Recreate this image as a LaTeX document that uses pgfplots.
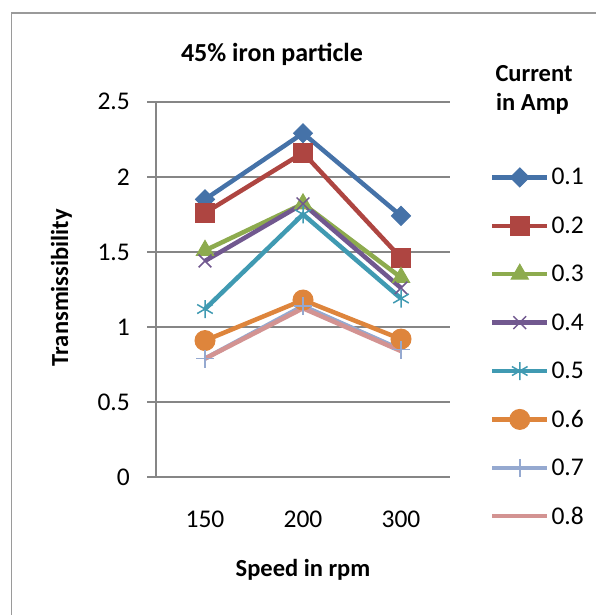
\documentclass[border=0pt]{standalone}
\usepackage{fontspec}
\setmainfont{Carlito}
\usepackage{pgfplots}
\pgfplotsset{compat=1.18}

\definecolor{gridgray}{HTML}{868686}
\definecolor{framegray}{HTML}{9A9A9A}
\definecolor{sA}{HTML}{4572A8}
\definecolor{sB}{HTML}{AE4541}
\definecolor{sC}{HTML}{8DAB4E}
\definecolor{sD}{HTML}{71588F}
\definecolor{sE}{HTML}{409AB2}
\definecolor{sF}{HTML}{DE853C}
\definecolor{sG}{HTML}{95A9D0}
\definecolor{sH}{HTML}{D39392}

\begin{document}
\begin{tikzpicture}[x=1bp,y=1bp]
\useasboundingbox (0,0) rectangle (596,615);
\draw[framegray, line width=1.5bp] (11.7,-20) -- (11.7,602) -- (620,602);

\begin{axis}[
    at={(156bp,137.7bp)}, anchor=south west,
    scale only axis, width=294bp, height=375.6bp,
    xmin=-0.5, xmax=2.5, ymin=0, ymax=2.5,
    xtick={0,1,2}, xticklabels={150,200,300},
    ytick={0,0.5,1,1.5,2,2.5},
    axis x line=bottom, axis y line=left,
    axis line style={-, draw=gridgray, line width=2bp},
    ymajorgrids, grid style={draw=gridgray, line width=2bp},
    tick align=outside, major tick length=9bp,
    xtick style={draw=none},
    ytick style={draw=gridgray, line width=2bp},
    ticklabel style={font=\fontsize{25.5bp}{30bp}\selectfont},
    /pgf/number format/assume math mode=true,
    yticklabel style={anchor=east, inner sep=0pt, xshift=-17bp},
    xticklabel style={anchor=base, inner sep=0pt, yshift=-41bp},
    xlabel={Speed in rpm}, ylabel={Transmissibility},
    label style={font=\fontsize{24.5bp}{28bp}\selectfont\bfseries},
    xlabel style={at={(axis description cs:0.5,-0.2647)}, anchor=base, inner sep=0pt},
    ylabel style={at={(axis description cs:-0.2993,0.505)}, anchor=base, inner sep=0pt, rotate=0},
    every axis plot/.append style={line width=4.5bp},
    legend style={at={(axis description cs:1.1361,0.8363)}, anchor=north west,
        draw=none, fill=none, inner sep=0pt, outer sep=0pt,
        row sep=19.9bp, column sep=2bp,
        font=\fontsize{25.5bp}{30bp}\selectfont,
        nodes={inner sep=0pt, anchor=west}},
    legend cell align=left,
    legend image code/.code={
        \path (0,-12bp) (0,12bp);
        \draw[mark repeat=2, mark phase=2, #1] plot coordinates {(0bp,0bp) (27.5bp,0bp) (55bp,0bp)};
    },
    clip=false,
]
\addplot[sA, mark=square*, mark size=6.7bp, mark options={solid, rotate=45, line width=1bp}]
    coordinates {(0,1.85) (1,2.29) (2,1.74)};
\addlegendentry{0.1}
\addplot[sB, mark=square*, mark size=9.5bp, mark options={solid, line width=1bp}]
    coordinates {(0,1.76) (1,2.16) (2,1.46)};
\addlegendentry{0.2}
\addplot[sC, mark=triangle*, mark size=10bp, mark options={solid, line width=1bp}]
    coordinates {(0,1.51) (1,1.82) (2,1.33)};
\addlegendentry{0.3}
\addplot[sD, mark=x, mark size=9bp, mark options={solid, line width=1.5bp}]
    coordinates {(0,1.44) (1,1.82) (2,1.26)};
\addlegendentry{0.4}
\addplot[sE, mark=asterisk, mark size=9bp, mark options={solid, line width=1.5bp}]
    coordinates {(0,1.12) (1,1.75) (2,1.19)};
\addlegendentry{0.5}
\addplot[sF, mark=*, mark size=10bp, mark options={solid, line width=1bp}]
    coordinates {(0,0.91) (1,1.18) (2,0.92)};
\addlegendentry{0.6}
\addplot[sG, mark=+, mark size=9bp, mark options={solid, line width=1.5bp}]
    coordinates {(0,0.79) (1,1.14) (2,0.85)};
\addlegendentry{0.7}
\addplot[sH, mark=none]
    coordinates {(0,0.79) (1,1.125) (2,0.84)};
\addlegendentry{0.8}
\end{axis}

\node[anchor=base, font=\fontsize{26bp}{30bp}\selectfont\bfseries] at (272,553.3) {45\% iron particle};
\node[anchor=base, font=\fontsize{24.5bp}{28bp}\selectfont\bfseries] at (534,533) {Current};
\node[anchor=base, font=\fontsize{24.5bp}{28bp}\selectfont\bfseries] at (532.5,504) {in Amp};
\end{tikzpicture}
\end{document}
